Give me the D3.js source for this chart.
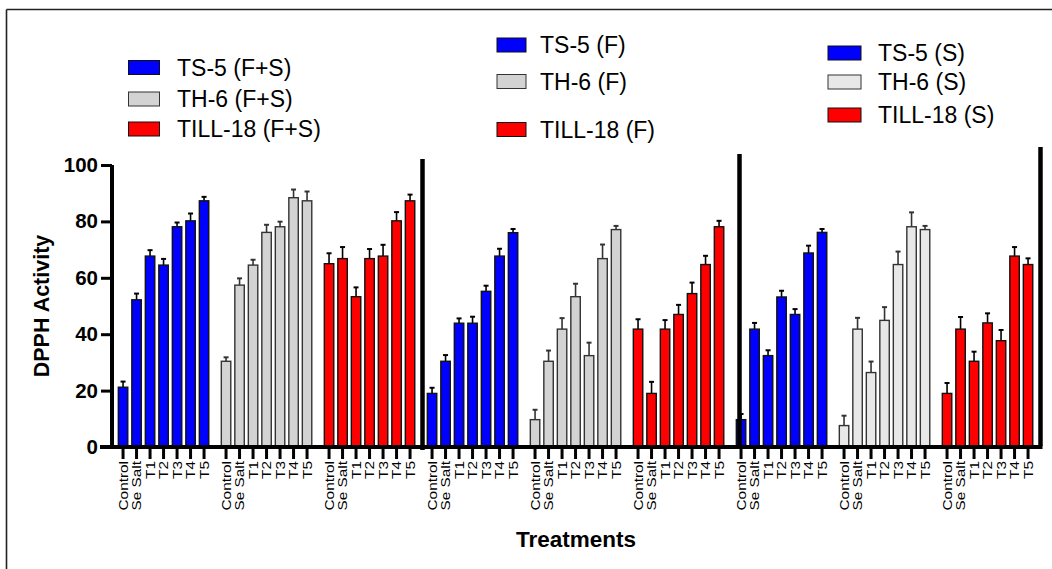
<!DOCTYPE html>
<html>
<head>
<meta charset="utf-8">
<script src="https://cdn.jsdelivr.net/npm/d3@7/dist/d3.min.js"></script>
<style>
  html, body { margin: 0; padding: 0; background: #fff; }
  svg { display: block; font-family: Arial, "Liberation Sans", Helvetica, sans-serif; }
</style>
</head>
<body>
<svg id="chart" width="1052" height="569"></svg>
<script>
// Treatments along each group
const treatments = ["Control", "Se Salt", "T1", "T2", "T3", "T4", "T5"];

// Strain / application groups, in drawing order
const groupNames = [
  "TS-5 (F+S)", "TH-6 (F+S)", "TILL-18 (F+S)",
  "TS-5 (F)", "TH-6 (F)", "TILL-18 (F)",
  "TS-5 (S)", "TH-6 (S)", "TILL-18 (S)"
];
const groupColors = [
  "#0000ff", "#d3d3d3", "#ff0000",
  "#0000ff", "#d3d3d3", "#ff0000",
  "#0000ff", "#e8e8e8", "#ff0000"
];

// DPPH activity means
const ts5FS    = [21.2, 52.2, 67.7, 64.5, 78.1, 80.2, 87.3];
const th6FS    = [30.4, 57.4, 64.5, 76.1, 78.1, 88.4, 87.3];
const till18FS = [65.0, 66.8, 53.3, 66.8, 67.7, 80.2, 87.3];
const ts5F     = [19.0, 30.4, 43.9, 43.9, 55.2, 67.7, 76.0];
const th6F     = [9.7, 30.4, 41.8, 53.3, 32.4, 66.8, 77.1];
const till18F  = [41.8, 19.0, 41.8, 47.0, 54.4, 64.7, 78.1];
const ts5S     = [9.7, 41.8, 32.4, 53.2, 47.0, 68.8, 76.1];
const th6S     = [7.6, 41.8, 26.4, 44.9, 64.7, 78.1, 77.1];
const till18S  = [19.0, 41.8, 30.4, 44.0, 37.7, 67.7, 64.7];

// Standard errors
const ts5FSErr    = [2.0, 2.2, 2.1, 2.2, 1.5, 2.6, 1.4];
const th6FSErr    = [1.4, 2.4, 1.9, 2.7, 1.8, 2.9, 3.3];
const till18FSErr = [3.7, 4.1, 3.3, 3.4, 4.0, 3.1, 2.2];
const ts5FErr     = [2.0, 2.2, 1.7, 2.3, 2.0, 2.6, 1.3];
const th6FErr     = [3.5, 3.8, 3.9, 4.6, 4.6, 5.0, 1.3];
const till18FErr  = [3.5, 4.1, 3.2, 3.4, 3.9, 3.1, 2.1];
const ts5SErr     = [2.0, 2.2, 1.9, 2.2, 1.9, 2.6, 1.2];
const th6SErr     = [3.5, 4.0, 3.9, 4.7, 4.6, 5.1, 1.3];
const till18SErr  = [3.7, 4.3, 3.4, 3.4, 3.8, 3.2, 2.2];

const yTicks = [0, 20, 40, 60, 80, 100];

const groupValues = [ts5FS, th6FS, till18FS, ts5F, th6F, till18F, ts5S, th6S, till18S];
const groupErrors = [ts5FSErr, th6FSErr, till18FSErr, ts5FErr, th6FErr, till18FErr, ts5SErr, th6SErr, till18SErr];

const svg = d3.select("#chart");

// outer frame (top and left edges)
svg.append("line").attr("x1", 6.5).attr("x2", 1052).attr("y1", 9.5).attr("y2", 9.5)
  .attr("stroke", "#222").attr("stroke-width", 1.6);
svg.append("line").attr("x1", 6.5).attr("x2", 6.5).attr("y1", 9.5).attr("y2", 569)
  .attr("stroke", "#222").attr("stroke-width", 1.6);

// scales
const y = d3.scaleLinear().domain([0, 100]).range([447, 165]);
const xGroup = d3.scaleBand().domain(groupNames).range([116.3, 1034.8])
  .paddingInner(0.0825).paddingOuter(0);
const xBar = d3.scaleBand().domain(treatments).range([0, xGroup.bandwidth()])
  .paddingInner(0.3).paddingOuter(0.15);

// bars
const rows = [];
groupNames.forEach((g, gi) => {
  treatments.forEach((t, ti) => {
    rows.push({ group: g, gi, t, v: groupValues[gi][ti], e: groupErrors[gi][ti] });
  });
});

const isGrey = gi => gi % 3 === 1;

const barG = svg.append("g");
// error bars first so the bar outline sits on top
const errG = barG.append("g");
rows.forEach(d => {
  const cx = xGroup(d.group) + xBar(d.t) + xBar.bandwidth() / 2;
  const col = isGrey(d.gi) ? "#333" : "#000";
  errG.append("line").attr("x1", cx).attr("x2", cx)
    .attr("y1", y(d.v)).attr("y2", y(d.v + d.e))
    .attr("stroke", col).attr("stroke-width", 1.6);
  errG.append("line").attr("x1", cx - 2.5).attr("x2", cx + 2.5)
    .attr("y1", y(d.v + d.e)).attr("y2", y(d.v + d.e))
    .attr("stroke", col).attr("stroke-width", 2);
});

barG.selectAll("rect.bar").data(rows).enter().append("rect")
  .attr("class", "bar")
  .attr("x", d => xGroup(d.group) + xBar(d.t))
  .attr("width", xBar.bandwidth())
  .attr("y", d => y(d.v))
  .attr("height", d => y(0) - y(d.v))
  .attr("fill", d => groupColors[d.gi])
  .attr("stroke", d => isGrey(d.gi) ? "#333" : "#111")
  .attr("stroke-width", 1.4);

// y axis
const yAxis = d3.axisLeft(y).tickValues(yTicks).tickSize(11).tickPadding(3);
const yAxisG = svg.append("g").attr("transform", "translate(112,0)").call(yAxis);
yAxisG.select(".domain").attr("stroke", "#000").attr("stroke-width", 4)
  .attr("d", `M0,${y(100)}V${y(0) + 2}`);
yAxisG.selectAll(".tick line").attr("stroke", "#000").attr("stroke-width", 3);
yAxisG.selectAll(".tick text").attr("fill", "#000").attr("font-size", 20.5)
  .attr("font-weight", "bold").attr("font-family", "Arial, 'Liberation Sans', sans-serif");

// x axis baseline
svg.append("line").attr("x1", 100).attr("x2", 1042.5).attr("y1", y(0)).attr("y2", y(0))
  .attr("stroke", "#000").attr("stroke-width", 4);

// x ticks and rotated labels per group
groupNames.forEach(g => {
  const xInner = d3.scaleBand().domain(treatments)
    .range([xGroup(g), xGroup(g) + xGroup.bandwidth()])
    .paddingInner(0.3).paddingOuter(0.15);
  const axis = d3.axisBottom(xInner).tickSize(0).tickFormat("");
  const ag = svg.append("g").attr("transform", `translate(0,${y(0)})`).call(axis);
  ag.select(".domain").remove();
  treatments.forEach(t => {
    const cx = xInner(t) + xInner.bandwidth() / 2;
    ag.append("line").attr("x1", cx).attr("x2", cx).attr("y1", 1).attr("y2", 12)
      .attr("stroke", "#000").attr("stroke-width", 3);
    ag.append("text")
      .attr("transform", `translate(${cx + 0.5},14) rotate(-90) scale(1.28,1)`)
      .attr("text-anchor", "end")
      .attr("dy", "0.35em")
      .attr("font-size", 12)
      .attr("fill", "#000")
      .text(t);
  });
});

// thick panel separators
const separators = [
  { x: 422.5, top: 159, bottom: 450 },
  { x: 739.5, top: 154, bottom: 447 },
  { x: 1040.5, top: 147, bottom: 446 }
];
svg.selectAll("line.sep").data(separators).enter().append("line")
  .attr("class", "sep")
  .attr("x1", d => d.x).attr("x2", d => d.x)
  .attr("y1", d => d.top).attr("y2", d => d.bottom)
  .attr("stroke", "#000").attr("stroke-width", 4.5);

// axis titles
svg.append("text")
  .attr("transform", `translate(49,306) rotate(-90)`)
  .attr("text-anchor", "middle")
  .attr("font-size", 21.5).attr("font-weight", "bold").attr("fill", "#000")
  .text("DPPH Activity");
svg.append("text")
  .attr("x", 576).attr("y", 547)
  .attr("text-anchor", "middle")
  .attr("font-size", 22.5).attr("font-weight", "bold").attr("fill", "#000")
  .text("Treatments");

// legends, one per panel
const legends = [
  { x: 128.5, tx: 177, w: 31, rows: [67.5, 99, 129], idx: [0, 1, 2] },
  { x: 497, tx: 540, w: 29, rows: [45, 81.5, 129.5], idx: [3, 4, 5] },
  { x: 828, tx: 878, w: 33, rows: [53, 82, 115], idx: [6, 7, 8] }
];
legends.forEach(L => {
  const lg = svg.append("g");
  L.idx.forEach((gi, k) => {
    const cy = L.rows[k];
    lg.append("rect")
      .attr("x", L.x).attr("y", cy - 7).attr("width", L.w).attr("height", 14)
      .attr("fill", groupColors[gi])
      .attr("stroke", isGrey(gi) ? "#333" : "#111").attr("stroke-width", 1);
    lg.append("text")
      .attr("x", L.tx).attr("y", cy + 8)
      .attr("font-size", 23).attr("fill", "#000")
      .text(groupNames[gi]);
  });
});
</script>
</body>
</html>
